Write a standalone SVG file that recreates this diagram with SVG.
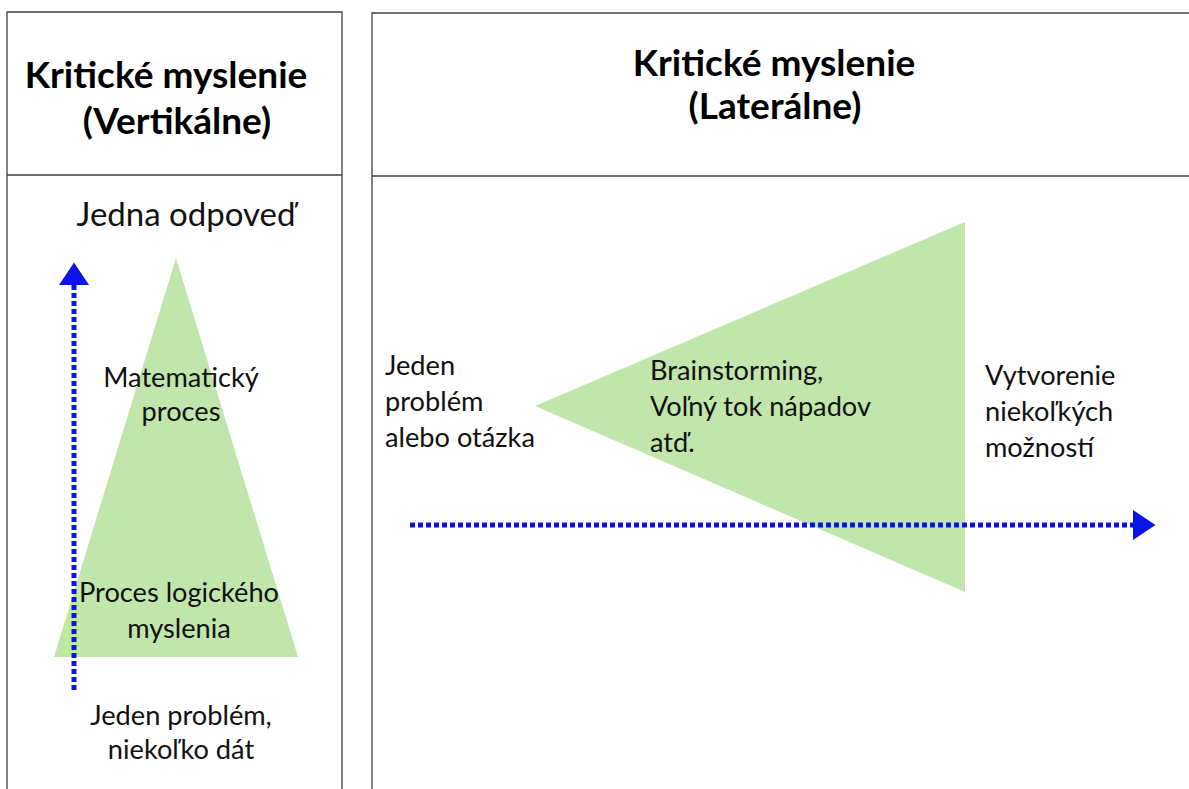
<svg xmlns="http://www.w3.org/2000/svg" width="1189" height="789" viewBox="0 0 1189 789">
<style>
.frame{fill:none;stroke:#404040;stroke-width:1.3}
.title{font-family:Lato,"Open Sans",sans-serif;font-weight:bold;font-size:37px;fill:#000}
.t{font-family:Lato,"Open Sans",sans-serif;font-size:27.2px;fill:#111}
.tri{fill:#c0e6ac}
.dot{fill:none;stroke:#0a14e6;stroke-width:5;stroke-dasharray:5 3}
</style>
<defs>
<marker id="ah" markerWidth="6" markerHeight="6" refX="0" refY="3" orient="auto" markerUnits="strokeWidth">
<path d="M0,0 L4.5,3 L0,6 Z" fill="#0a14e6"/>
</marker>
</defs>
<rect width="1189" height="789" fill="#fff"/>
<g id="left-panel">
<path class="frame" d="M7,800 V12 H342 V800 M7,175 H342"/>
<text class="title" x="166" y="88" text-anchor="middle">Kritické myslenie</text>
<text class="title" x="177" y="134" text-anchor="middle">(Vertikálne)</text>
</g>
<g id="right-panel">
<path class="frame" d="M372,800 V13 H1195 M372,176 H1195"/>
<text class="title" x="774" y="76" text-anchor="middle">Kritické myslenie</text>
<text class="title" x="775" y="119" text-anchor="middle">(Laterálne)</text>
</g>
<g id="vertical-triangle">
<polygon class="tri" points="176,258 298,657 54,657"/>
</g>
<g id="lateral-triangle">
<polygon class="tri" points="535,406 965,222 965,592"/>
</g>
<g id="connectors">
<line class="dot" x1="74" y1="690" x2="74" y2="285" marker-end="url(#ah)"/>
<line class="dot" x1="410" y1="525" x2="1133" y2="525" marker-end="url(#ah)"/>
</g>
<g id="vertical-labels">
<text class="t" x="186" y="226" text-anchor="middle" style="font-size:33px">Jedna odpoveď</text>
<text class="t" x="181" y="387" text-anchor="middle">Matematický</text>
<text class="t" x="181" y="421" text-anchor="middle">proces</text>
<text class="t" x="179" y="602" text-anchor="middle">Proces logického</text>
<text class="t" x="179" y="638" text-anchor="middle">myslenia</text>
<text class="t" x="181" y="725" text-anchor="middle">Jeden problém,</text>
<text class="t" x="181" y="759" text-anchor="middle">niekoľko dát</text>
</g>
<g id="lateral-labels">
<text class="t" x="385" y="375">Jeden</text>
<text class="t" x="385" y="411">problém</text>
<text class="t" x="385" y="447">alebo otázka</text>
<text class="t" x="650" y="380">Brainstorming,</text>
<text class="t" x="650" y="416">Voľný tok nápadov</text>
<text class="t" x="650" y="452">atď.</text>
<text class="t" x="985" y="385">Vytvorenie</text>
<text class="t" x="985" y="421">niekoľkých</text>
<text class="t" x="985" y="457">možností</text>
</g>
</svg>
